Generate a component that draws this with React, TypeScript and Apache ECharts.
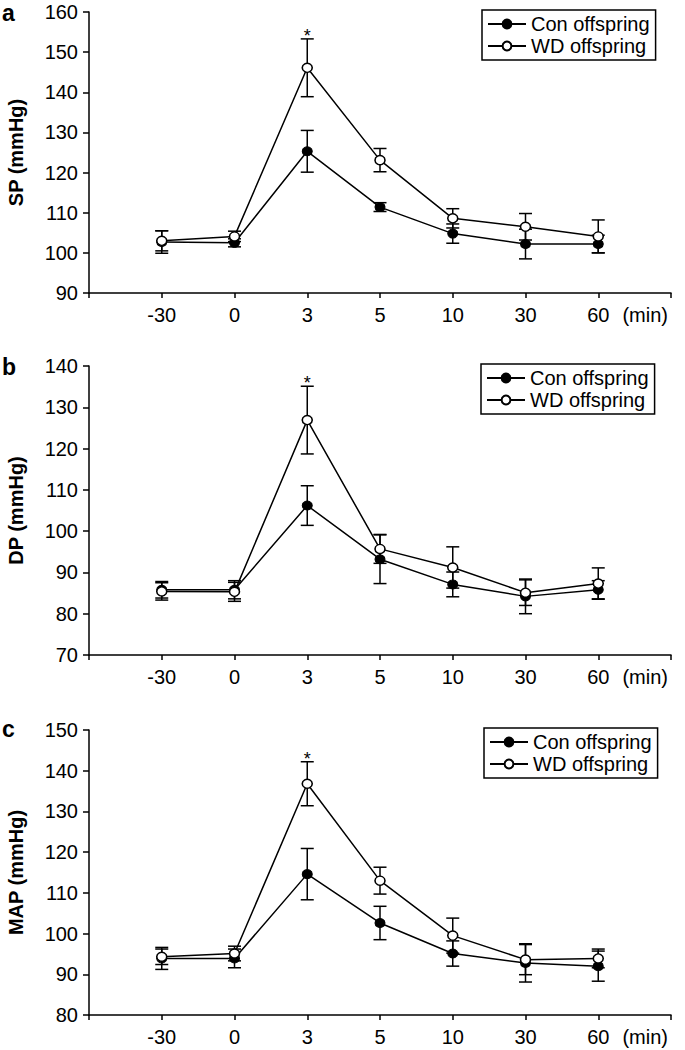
import React, { useEffect, useRef } from "react";
import * as echarts from "echarts";

const xLabels = ["-30", "0", "3", "5", "10", "30", "60"];
const sigMarks = ["", "", "*", "", "", "", ""];
const seriesNames = ["Con offspring", "WD offspring"];

// Panel a: SP
const spCon = [102.7, 102.5, 125.3, 111.4, 104.8, 102.2, 102.2];
const spConErr = [2.8, 1.0, 5.2, 1.1, 2.4, 3.7, 2.2];
const spWd = [103.0, 104.1, 146.1, 123.1, 108.6, 106.5, 104.1];
const spWdErr = [2.5, 1.3, 7.2, 2.9, 2.4, 3.3, 4.1];

// Panel b: DP
const dpCon = [85.8, 85.8, 106.2, 93.2, 87.1, 84.2, 85.8];
const dpConErr = [2.0, 2.2, 4.8, 5.9, 3.0, 4.2, 2.2];
const dpWd = [85.4, 85.3, 126.9, 95.7, 91.2, 85.1, 87.3];
const dpWdErr = [2.1, 2.3, 8.2, 3.5, 5.0, 3.1, 3.8];

// Panel c: MAP
const mapCon = [93.9, 93.9, 114.6, 102.6, 95.1, 92.8, 92.0];
const mapConErr = [2.7, 2.3, 6.3, 4.1, 3.1, 4.7, 3.7];
const mapWd = [94.3, 95.1, 136.8, 113.0, 99.5, 93.6, 93.9];
const mapWdErr = [1.9, 1.8, 5.4, 3.3, 4.3, 3.7, 2.3];

const FONT = "'Liberation Sans', Arial, Helvetica, sans-serif";

const panels = [
  { letter: "a", yName: "SP (mmHg)", min: 90, max: 160, con: spCon, conErr: spConErr, wd: spWd, wdErr: spWdErr,
    grid: { top: 12, height: 281 }, legend: { left: 482, top: 10 }, letterY: 13 },
  { letter: "b", yName: "DP (mmHg)", min: 70, max: 140, con: dpCon, conErr: dpConErr, wd: dpWd, wdErr: dpWdErr,
    grid: { top: 366, height: 289 }, legend: { left: 481, top: 364 }, letterY: 367 },
  { letter: "c", yName: "MAP (mmHg)", min: 80, max: 150, con: mapCon, conErr: mapConErr, wd: mapWd, wdErr: mapWdErr,
    grid: { top: 730, height: 285 }, legend: { left: 484, top: 728 }, letterY: 729 },
];

function makeErrRender(sig: string[] | null) {
  return (params: any, api: any) => {
    const x = api.value(0);
    const y = api.value(1);
    const e = api.value(2);
    const top = api.coord([x, y + e]);
    const bot = api.coord([x, y - e]);
    const hw = 6.5;
    const style = { stroke: "#000", lineWidth: 1.5 };
    const children: any[] = [
      { type: "line", shape: { x1: top[0], y1: top[1], x2: bot[0], y2: bot[1] }, style },
      { type: "line", shape: { x1: top[0] - hw, y1: top[1], x2: top[0] + hw, y2: top[1] }, style },
      { type: "line", shape: { x1: bot[0] - hw, y1: bot[1], x2: bot[0] + hw, y2: bot[1] }, style },
    ];
    if (sig && sig[params.dataIndex]) {
      children.push({
        type: "text",
        x: top[0],
        y: top[1] - 3,
        style: {
          text: sig[params.dataIndex],
          fontSize: 18,
          fontFamily: FONT,
          fill: "#000",
          align: "center",
          verticalAlign: "middle",
        },
      });
    }
    return { type: "group", children };
  };
}

export default function App() {
  const ref = useRef<HTMLDivElement>(null);

  useEffect(() => {
    document.body.style.margin = "0";
    if (!ref.current) return;
    const chart = echarts.init(ref.current, undefined, { renderer: "svg" });

    const grids: any[] = [];
    const xAxes: any[] = [];
    const yAxes: any[] = [];
    const legends: any[] = [];
    const series: any[] = [];
    const graphics: any[] = [];

    panels.forEach((p, k) => {
      grids.push({ left: 89, width: 582, top: p.grid.top, height: p.grid.height, containLabel: false, outerBoundsMode: "none" });
      xAxes.push({
        type: "value",
        gridIndex: k,
        min: -1,
        max: 7,
        interval: 1,
        name: "(min)",
        nameLocation: "end",
        nameGap: 0,
        nameTextStyle: { fontSize: 20, fontFamily: FONT, color: "#000", align: "right", verticalAlign: "top", lineHeight: 20, padding: [12, 3, 0, 0] },
        axisLine: { onZero: false, lineStyle: { color: "#000", width: 1.5 } },
        axisTick: { show: true, length: 5, lineStyle: { color: "#000", width: 1.5 } },
        axisLabel: {
          fontSize: 20,
          fontFamily: FONT,
          color: "#000",
          margin: 12,
          showMinLabel: true,
          showMaxLabel: true,
          formatter: (v: number) => (v >= 0 && v < xLabels.length ? xLabels[v] : ""),
        },
        splitLine: { show: false },
      });
      yAxes.push({
        type: "value",
        gridIndex: k,
        min: p.min,
        max: p.max,
        interval: 10,
        name: p.yName,
        nameLocation: "middle",
        nameGap: 63,
        nameTextStyle: { fontSize: 20, fontWeight: "bold", fontFamily: FONT, color: "#000" },
        axisLine: { show: true, onZero: false, lineStyle: { color: "#000", width: 1.5 } },
        axisTick: { show: true, length: 6, lineStyle: { color: "#000", width: 1.5 } },
        axisLabel: { fontSize: 20, fontFamily: FONT, color: "#000", margin: 11 },
        splitLine: { show: false },
      });
      legends.push({
        left: p.legend.left,
        top: p.legend.top,
        orient: "vertical",
        itemWidth: 38,
        itemHeight: 11,
        itemGap: 2,
        itemTextGap: 7,
        padding: [4, 6, 4, 5],
        borderColor: "#000",
        borderWidth: 1.5,
        backgroundColor: "#fff",
        selectedMode: false,
        data: seriesNames,
        textStyle: { fontSize: 20, fontFamily: FONT, color: "#000", lineHeight: 20 },
      });
      // error bars
      series.push({
        type: "custom",
        xAxisIndex: k,
        yAxisIndex: k,
        z: 1,
        renderItem: makeErrRender(null),
        encode: { x: 0, y: 1 },
        data: p.con.map((v, i) => [i, v, p.conErr[i]]),
      });
      series.push({
        type: "custom",
        xAxisIndex: k,
        yAxisIndex: k,
        z: 1,
        renderItem: makeErrRender(sigMarks),
        encode: { x: 0, y: 1 },
        data: p.wd.map((v, i) => [i, v, p.wdErr[i]]),
      });
      series.push({
        type: "line",
        name: seriesNames[0],
        xAxisIndex: k,
        yAxisIndex: k,
        z: 3,
        symbol: "circle",
        symbolSize: [10, 9],
        itemStyle: { color: "#000", borderColor: "#000", borderWidth: 1 },
        lineStyle: { color: "#000", width: 1.5 },
        data: p.con.map((v, i) => [i, v]),
      });
      series.push({
        type: "line",
        name: seriesNames[1],
        xAxisIndex: k,
        yAxisIndex: k,
        z: 4,
        symbol: "circle",
        symbolSize: [10, 9],
        itemStyle: { color: "#fff", borderColor: "#000", borderWidth: 1.5 },
        lineStyle: { color: "#000", width: 1.5 },
        data: p.wd.map((v, i) => [i, v]),
      });
      graphics.push({
        type: "text",
        x: 2,
        y: p.letterY,
        style: { text: p.letter, fontSize: 23, fontWeight: "bold", fontFamily: FONT, fill: "#000", verticalAlign: "middle" },
      });
    });

    chart.setOption({
      animation: false,
      backgroundColor: "#fff",
      grid: grids,
      xAxis: xAxes,
      yAxis: yAxes,
      legend: legends,
      series,
      graphic: graphics,
    });

    return () => chart.dispose();
  }, []);

  return <div ref={ref} style={{ width: 685, height: 1050 }} />;
}
